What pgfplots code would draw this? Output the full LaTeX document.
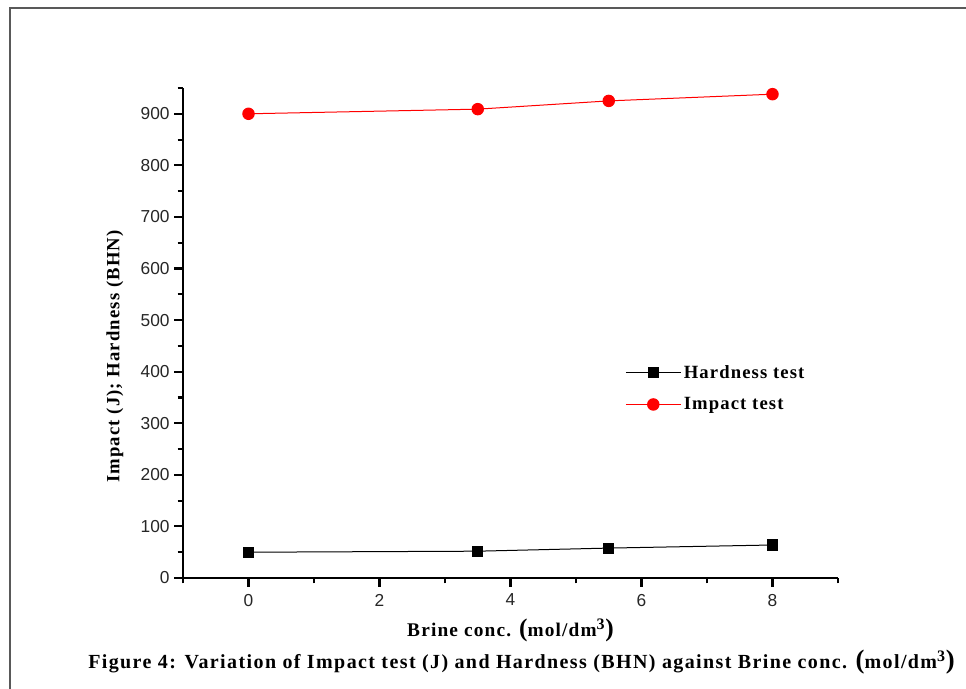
\documentclass[border=0pt]{standalone}
\usepackage{pgfplots}
\pgfplotsset{compat=1.18}
\usepackage{fontspec}
\setmainfont{Liberation Serif}
\newfontfamily\arial{Liberation Sans}
\newfontfamily\capfont[LetterSpace=6]{Liberation Serif}
\newfontfamily\capfontw[LetterSpace=7]{Liberation Serif}
\begin{document}
\begin{tikzpicture}
\path[use as bounding box] (0,0) rectangle (724.5pt,-516pt);
\draw[line width=1.5pt, black!65] (7.5pt,-520pt) -- (7.5pt,-6pt) -- (730pt,-6pt);
\begin{axis}[
  at={(137.25pt,-433.5pt)}, anchor=south west,
  scale only axis, width=491.25pt, height=367.5pt,
  xmin=-1, xmax=9, ymin=0, ymax=950,
  axis x line*=bottom, axis y line*=left,
  axis line style={line width=1.5pt, -},
  xtick={0,2,4,6,8}, minor xtick={-1,1,3,5,7,9},
  ytick={0,100,...,900}, minor ytick={50,150,...,950},
  tick align=outside,
  major tick length=6.5pt, minor tick length=4pt,
  every tick/.append style={line width=1.6pt, black},
  tick style={line width=1.6pt, black},
  tick label style={font=\arial\fontsize{13}{15}\selectfont, color=black!85},
  xticklabel style={yshift=-2pt},
  /pgf/number format/assume math mode=true,
  xlabel={\capfont\bfseries Brine conc. {\fontsize{19}{19}\selectfont(}mol/dm\textsuperscript{\large 3}{\fontsize{19}{19}\selectfont)}},
  ylabel={\capfont\bfseries Impact (J); Hardness (BHN)},
  every axis x label/.style={at={(axis description cs:0.50,-0.106)}, anchor=center, font=\fontsize{14.5}{16}\selectfont},
  every axis y label/.style={at={(axis description cs:-0.104,0.452)}, anchor=center, rotate=90, font=\fontsize{14}{16}\selectfont},
  legend style={draw=none, fill=none, at={(rel axis cs:0.669,0.446)}, anchor=north west,
    font=\capfont\bfseries\fontsize{14}{16}\selectfont, row sep=9pt},
  legend cell align=left,
  legend image code/.code={\draw[mark repeat=2,mark phase=2,#1] plot coordinates {(0pt,0pt) (20.5pt,0pt) (41pt,0pt)};},
]
\addplot[black, line width=0.75pt, mark=square*, mark size=3.8pt, mark options={solid}] coordinates {
 (0,50) (3.5,52) (5.5,58) (8,64)};
\addlegendentry{Hardness test}
\addplot[red, line width=0.75pt, mark=*, mark size=4.3pt] coordinates {
 (0,900) (3.5,909) (5.5,925) (8,938)};
\addlegendentry{Impact test}
\end{axis}
\node[anchor=base west, inner sep=0pt, font=\capfontw\bfseries\fontsize{15}{17}\selectfont] at (66pt,-501pt)
 {Figure 4: Variation of Impact test (J) and Hardness (BHN) against Brine conc. {\fontsize{20}{20}\selectfont(}mol/dm\textsuperscript{\large 3}{\fontsize{20}{20}\selectfont)}};
\end{tikzpicture}
\end{document}
